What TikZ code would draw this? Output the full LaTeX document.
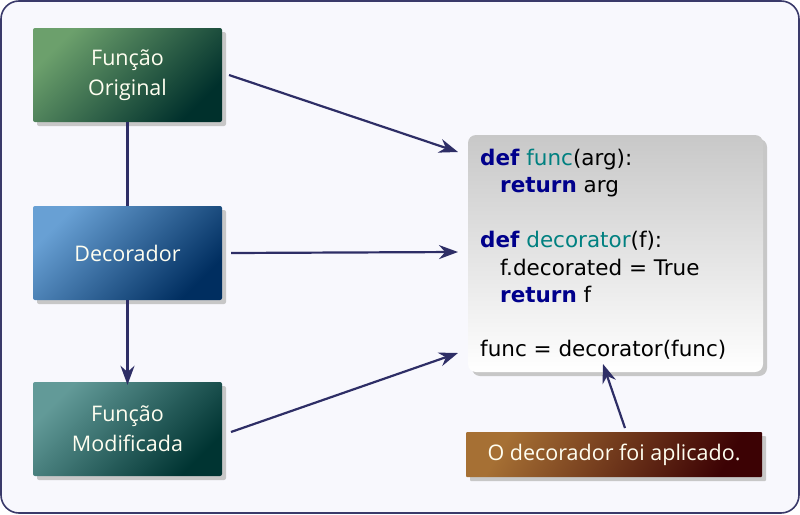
\documentclass[tikz,border=0pt]{standalone}
\usepackage{fontspec}
\setmainfont{Open Sans}
\newfontfamily\codefont{DejaVu Sans}
\usetikzlibrary{shadows,arrows.meta}
\definecolor{frameC}{HTML}{3A3A6A}
\definecolor{bgC}{HTML}{F8F8FD}
\definecolor{arrC}{HTML}{2E2E66}
\definecolor{kwC}{HTML}{00008B}
\definecolor{fnC}{HTML}{008080}
\tikzset{
  box/.style={minimum width=189pt, minimum height=94pt, rounded corners=2pt,
    text=white!94!yellow, align=center, font=\fontsize{21.5}{30}\selectfont,
    drop shadow={shadow xshift=4pt, shadow yshift=-4pt, fill=black!22, opacity=1}},
  conn/.style={draw=arrC, line width=2.2pt, -{Stealth[length=19pt,width=14pt]}},
  plain/.style={draw=arrC, line width=2.2pt},
  codeline/.style={anchor=base west, inner sep=0pt, font=\codefont\fontsize{21.5}{27}\selectfont},
}
\begin{document}
\begin{tikzpicture}[x=1pt,y=-1pt]
\useasboundingbox (0,0) rectangle (800,514);
\draw[frameC, fill=bgC, line width=1.6pt, rounded corners=18pt] (1,1) rectangle (799,513);

\node[box, top color={rgb,255:red,108;green,160;blue,108}, bottom color={rgb,255:red,0;green,48;blue,44}, shading angle=45] (orig) at (127.5,75) {Função\\Original};
\node[box, top color={rgb,255:red,104;green,160;blue,212}, bottom color={rgb,255:red,0;green,46;blue,96}, shading angle=45] (dec) at (127.5,253) {Decorador};
\node[box, top color={rgb,255:red,98;green,154;blue,152}, bottom color={rgb,255:red,0;green,52;blue,50}, shading angle=45] (mod) at (127.5,429) {Função\\Modificada};

\node[minimum width=295pt, minimum height=237pt, rounded corners=8pt,
  top color={rgb,255:red,200;green,200;blue,200}, bottom color=white,
  drop shadow={shadow xshift=4pt, shadow yshift=-4pt, fill=black!22, opacity=1}] (code) at (615.5,253.5) {};

\node[codeline] (c1) at (480,165) {\textcolor{kwC}{\bfseries def} \textcolor{fnC}{func}(arg):};
\node[codeline] (c2) at (500,192.5) {\textcolor{kwC}{\bfseries return} arg};
\node[codeline] (c3) at (480,247.5) {\textcolor{kwC}{\bfseries def} \textcolor{fnC}{decorator}(f):};
\node[codeline] (c4) at (500,275) {f.decorated = True};
\node[codeline] (c5) at (500,302) {\textcolor{kwC}{\bfseries return} f};
\node[codeline] (c6) at (480,356.5) {func = decorator(func)};

\node[minimum width=296pt, minimum height=45pt, rounded corners=1pt,
  top color={rgb,255:red,166;green,112;blue,52}, bottom color={rgb,255:red,60;green,2;blue,4}, shading angle=60,
  text=white!94!yellow, font=\fontsize{21.5}{24}\selectfont,
  drop shadow={shadow xshift=4pt, shadow yshift=-4pt, fill=black!22, opacity=1}] (note) at (614,454.5) {O decorador foi aplicado.};

\coordinate (t1) at (458,152);
\coordinate (t2) at (458,252);
\coordinate (t3) at (458,353);
\coordinate (t4) at (603,364);
\coordinate (s1) at (229,75);
\coordinate (s3) at (231,432);
\coordinate (s4) at (625,428);

\draw[conn] (s1) -- (t1);
\draw[conn] ([xshift=9pt]dec.east) -- (t2);
\draw[conn] (s3) -- (t3);
\draw[conn] (s4) -- (t4);
\draw[plain] (orig.south) -- (dec.north);
\draw[conn] (dec.south) -- ([yshift=-3pt]mod.north);
\end{tikzpicture}
\end{document}
